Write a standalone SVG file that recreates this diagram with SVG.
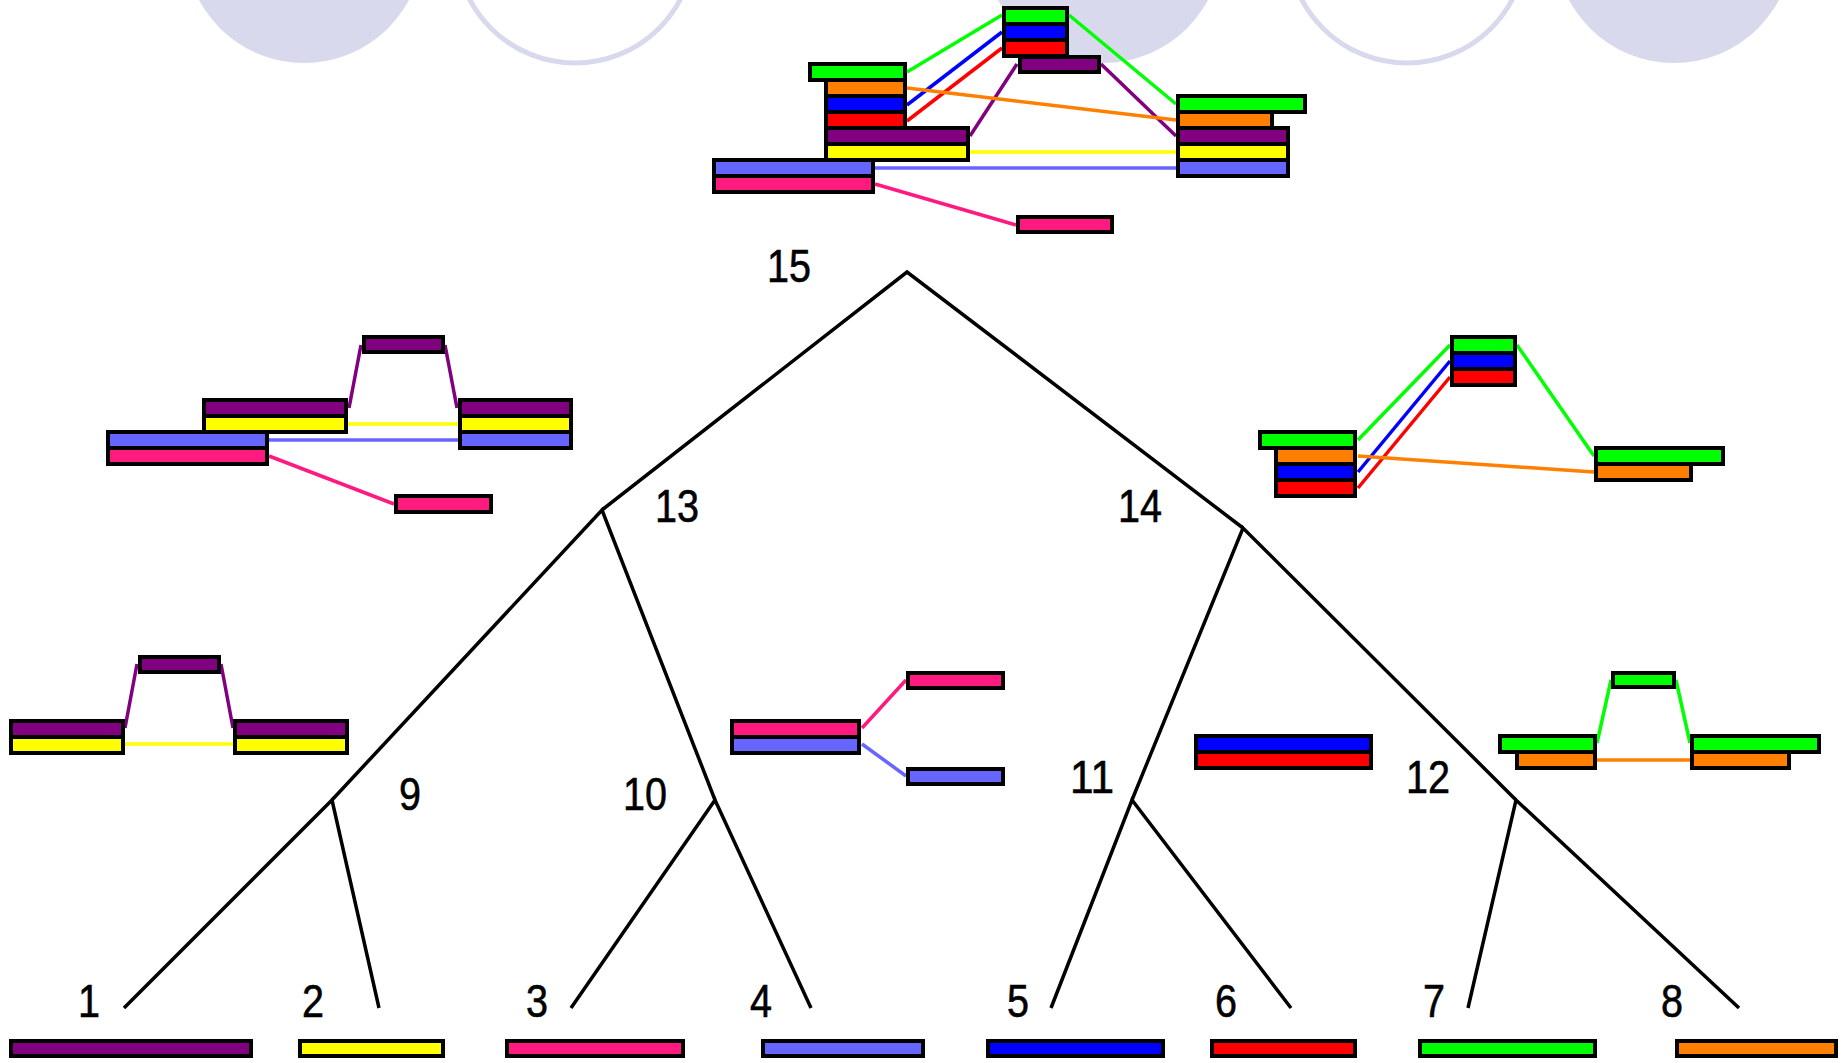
<svg xmlns="http://www.w3.org/2000/svg" width="1841" height="1063" viewBox="0 0 1841 1063">
  <style>
    .bg { fill: #ffffff; }
    .disc { fill: #d9d9ee; }
    .ring { fill: none; stroke: #d9d9ee; stroke-width: 5; }
    .edge { stroke: #000000; stroke-width: 3.5; fill: none; stroke-linecap: butt; }
    .bar { stroke: #000000; stroke-width: 4; }
    .lnk { stroke-width: 3.5; fill: none; }
    .num { font-family: "Liberation Sans", Arial, sans-serif; font-size: 47px; fill: #000000; stroke: #000000; stroke-width: 0.6; text-anchor: middle; }
    .c1 { fill: #800080; } .k1 { stroke: #800080; }
    .c2 { fill: #ffff00; } .k2 { stroke: #ffff00; }
    .c3 { fill: #ff1a80; } .k3 { stroke: #ff1a80; }
    .c4 { fill: #6666ff; } .k4 { stroke: #6666ff; }
    .c5 { fill: #0000ff; } .k5 { stroke: #0000ff; }
    .c6 { fill: #ff0000; } .k6 { stroke: #ff0000; }
    .c7 { fill: #00ff00; } .k7 { stroke: #00ff00; }
    .c8 { fill: #ff8000; } .k8 { stroke: #ff8000; }
  </style>

  <rect class="bg" x="0" y="0" width="1841" height="1063"/>

  <!-- decorative circles along the top edge -->
  <g id="backdrop">
    <circle class="disc" cx="304" cy="-56" r="119"/>
    <circle class="ring" cx="575" cy="-56" r="119"/>
    <circle class="disc" cx="1103" cy="-56" r="119"/>
    <circle class="ring" cx="1407" cy="-56" r="119"/>
    <circle class="disc" cx="1674" cy="-56" r="119"/>
  </g>

  <!-- tree edges -->
  <g id="connectors">
    <polyline class="edge" points="602,510 907,272 1243,528"/>
    <polyline class="edge" points="332,800 602,510 715,800"/>
    <polyline class="edge" points="1132,800 1243,528 1516,800"/>
    <polyline class="edge" points="124,1008 332,800 379,1008"/>
    <polyline class="edge" points="571,1008 715,800 811,1008"/>
    <polyline class="edge" points="1051,1008 1132,800 1291,1008"/>
    <polyline class="edge" points="1468,1008 1516,800 1739,1008"/>
  </g>

  <!-- leaves -->
  <g id="leaf1">
    <text class="num" x="89" y="1017" textLength="22" lengthAdjust="spacingAndGlyphs">1</text>
    <rect class="bar c1" x="11" y="1041" width="240" height="15"/>
  </g>
  <g id="leaf2">
    <text class="num" x="313" y="1017" textLength="22" lengthAdjust="spacingAndGlyphs">2</text>
    <rect class="bar c2" x="300" y="1041" width="143" height="15"/>
  </g>
  <g id="leaf3">
    <text class="num" x="537" y="1017" textLength="22" lengthAdjust="spacingAndGlyphs">3</text>
    <rect class="bar c3" x="507" y="1041" width="176" height="15"/>
  </g>
  <g id="leaf4">
    <text class="num" x="761" y="1017" textLength="22" lengthAdjust="spacingAndGlyphs">4</text>
    <rect class="bar c4" x="763" y="1041" width="160" height="15"/>
  </g>
  <g id="leaf5">
    <text class="num" x="1018" y="1017" textLength="22" lengthAdjust="spacingAndGlyphs">5</text>
    <rect class="bar c5" x="988" y="1041" width="175" height="15"/>
  </g>
  <g id="leaf6">
    <text class="num" x="1226" y="1017" textLength="22" lengthAdjust="spacingAndGlyphs">6</text>
    <rect class="bar c6" x="1212" y="1041" width="143" height="15"/>
  </g>
  <g id="leaf7">
    <text class="num" x="1434" y="1017" textLength="22" lengthAdjust="spacingAndGlyphs">7</text>
    <rect class="bar c7" x="1420" y="1041" width="175" height="15"/>
  </g>
  <g id="leaf8">
    <text class="num" x="1672" y="1017" textLength="22" lengthAdjust="spacingAndGlyphs">8</text>
    <rect class="bar c8" x="1677" y="1041" width="159" height="15"/>
  </g>

  <!-- node 9 -->
  <g id="node9">
    <text class="num" x="410" y="810" textLength="22" lengthAdjust="spacingAndGlyphs">9</text>
    <line class="lnk k1" x1="125" y1="728" x2="137" y2="664"/>
    <line class="lnk k1" x1="221" y1="664" x2="233" y2="728"/>
    <line class="lnk k2" x1="125" y1="744" x2="233" y2="744"/>
    <rect class="bar c1" x="140" y="657" width="79" height="15"/>
    <rect class="bar c1" x="11" y="721" width="112" height="16"/>
    <rect class="bar c2" x="11" y="737" width="112" height="16"/>
    <rect class="bar c1" x="235" y="721" width="112" height="16"/>
    <rect class="bar c2" x="235" y="737" width="112" height="16"/>
  </g>

  <!-- node 10 -->
  <g id="node10">
    <text class="num" x="645" y="810" textLength="44" lengthAdjust="spacingAndGlyphs">10</text>
    <line class="lnk k3" x1="862" y1="728" x2="906" y2="680"/>
    <line class="lnk k4" x1="862" y1="744" x2="906" y2="776"/>
    <rect class="bar c3" x="732" y="721" width="127" height="16"/>
    <rect class="bar c4" x="732" y="737" width="127" height="16"/>
    <rect class="bar c3" x="908" y="673" width="95" height="15"/>
    <rect class="bar c4" x="908" y="769" width="95" height="15"/>
  </g>

  <!-- node 11 -->
  <g id="node11">
    <text class="num" x="1092" y="793" textLength="44" lengthAdjust="spacingAndGlyphs">11</text>
    <rect class="bar c5" x="1196" y="736" width="175" height="16"/>
    <rect class="bar c6" x="1196" y="752" width="175" height="16"/>
  </g>

  <!-- node 12 -->
  <g id="node12">
    <text class="num" x="1428" y="793" textLength="44" lengthAdjust="spacingAndGlyphs">12</text>
    <line class="lnk k7" x1="1597" y1="743" x2="1611" y2="680"/>
    <line class="lnk k7" x1="1676" y1="680" x2="1690" y2="743"/>
    <line class="lnk k8" x1="1597" y1="760" x2="1690" y2="760"/>
    <rect class="bar c7" x="1613" y="673" width="61" height="14"/>
    <rect class="bar c8" x="1517" y="752" width="78" height="16"/>
    <rect class="bar c7" x="1500" y="736" width="95" height="16"/>
    <rect class="bar c8" x="1692" y="752" width="97" height="16"/>
    <rect class="bar c7" x="1692" y="736" width="127" height="16"/>
  </g>

  <!-- node 13 -->
  <g id="node13">
    <text class="num" x="677" y="522" textLength="44" lengthAdjust="spacingAndGlyphs">13</text>
    <line class="lnk k1" x1="349" y1="408" x2="361" y2="345"/>
    <line class="lnk k1" x1="445" y1="345" x2="457" y2="408"/>
    <line class="lnk k2" x1="348" y1="424" x2="458" y2="424"/>
    <line class="lnk k4" x1="269" y1="440" x2="458" y2="440"/>
    <line class="lnk k3" x1="269" y1="456" x2="394" y2="504"/>
    <rect class="bar c1" x="364" y="337" width="79" height="15"/>
    <rect class="bar c1" x="204" y="400" width="142" height="16"/>
    <rect class="bar c2" x="204" y="416" width="142" height="16"/>
    <rect class="bar c4" x="108" y="432" width="159" height="16"/>
    <rect class="bar c3" x="108" y="448" width="159" height="16"/>
    <rect class="bar c1" x="460" y="400" width="111" height="16"/>
    <rect class="bar c2" x="460" y="416" width="111" height="16"/>
    <rect class="bar c4" x="460" y="432" width="111" height="16"/>
    <rect class="bar c3" x="396" y="496" width="95" height="16"/>
  </g>

  <!-- node 14 -->
  <g id="node14">
    <text class="num" x="1140" y="522" textLength="44" lengthAdjust="spacingAndGlyphs">14</text>
    <line class="lnk k7" x1="1358" y1="440" x2="1450" y2="345"/>
    <line class="lnk k5" x1="1358" y1="472" x2="1450" y2="361"/>
    <line class="lnk k6" x1="1358" y1="488" x2="1450" y2="377"/>
    <line class="lnk k7" x1="1517" y1="345" x2="1594" y2="456"/>
    <line class="lnk k8" x1="1358" y1="456" x2="1594" y2="472"/>
    <rect class="bar c7" x="1452" y="337" width="63" height="16"/>
    <rect class="bar c5" x="1452" y="353" width="63" height="16"/>
    <rect class="bar c6" x="1452" y="369" width="63" height="16"/>
    <rect class="bar c8" x="1276" y="448" width="79" height="16"/>
    <rect class="bar c5" x="1276" y="464" width="79" height="16"/>
    <rect class="bar c6" x="1276" y="480" width="79" height="16"/>
    <rect class="bar c7" x="1260" y="432" width="95" height="16"/>
    <rect class="bar c8" x="1596" y="464" width="95" height="16"/>
    <rect class="bar c7" x="1596" y="448" width="127" height="16"/>
  </g>

  <!-- node 15 (root) -->
  <g id="node15">
    <text class="num" x="789" y="282" textLength="44" lengthAdjust="spacingAndGlyphs">15</text>
    <line class="lnk k7" x1="907" y1="72" x2="1002" y2="15"/>
    <line class="lnk k7" x1="1069" y1="15" x2="1176" y2="104"/>
    <line class="lnk k5" x1="907" y1="105" x2="1002" y2="32"/>
    <line class="lnk k6" x1="907" y1="121" x2="1002" y2="48"/>
    <line class="lnk k1" x1="970" y1="136" x2="1017" y2="64"/>
    <line class="lnk k1" x1="1101" y1="64" x2="1176" y2="136"/>
    <line class="lnk k8" x1="907" y1="88" x2="1176" y2="120"/>
    <line class="lnk k2" x1="970" y1="152" x2="1176" y2="152"/>
    <line class="lnk k4" x1="875" y1="168" x2="1176" y2="168"/>
    <line class="lnk k3" x1="875" y1="184" x2="1016" y2="225"/>
    <rect class="bar c7" x="1004" y="8" width="63" height="16"/>
    <rect class="bar c5" x="1004" y="24" width="63" height="16"/>
    <rect class="bar c6" x="1004" y="40" width="63" height="16"/>
    <rect class="bar c1" x="1020" y="57" width="79" height="15"/>
    <rect class="bar c8" x="826" y="80" width="79" height="16"/>
    <rect class="bar c5" x="826" y="96" width="79" height="16"/>
    <rect class="bar c6" x="826" y="112" width="79" height="16"/>
    <rect class="bar c7" x="810" y="64" width="95" height="16"/>
    <rect class="bar c1" x="826" y="128" width="142" height="16"/>
    <rect class="bar c2" x="826" y="144" width="142" height="16"/>
    <rect class="bar c4" x="714" y="160" width="159" height="16"/>
    <rect class="bar c3" x="714" y="176" width="159" height="16"/>
    <rect class="bar c8" x="1178" y="112" width="94" height="16"/>
    <rect class="bar c7" x="1178" y="96" width="127" height="16"/>
    <rect class="bar c1" x="1178" y="128" width="110" height="16"/>
    <rect class="bar c2" x="1178" y="144" width="110" height="16"/>
    <rect class="bar c4" x="1178" y="160" width="110" height="16"/>
    <rect class="bar c3" x="1018" y="217" width="94" height="15"/>
  </g>
</svg>
